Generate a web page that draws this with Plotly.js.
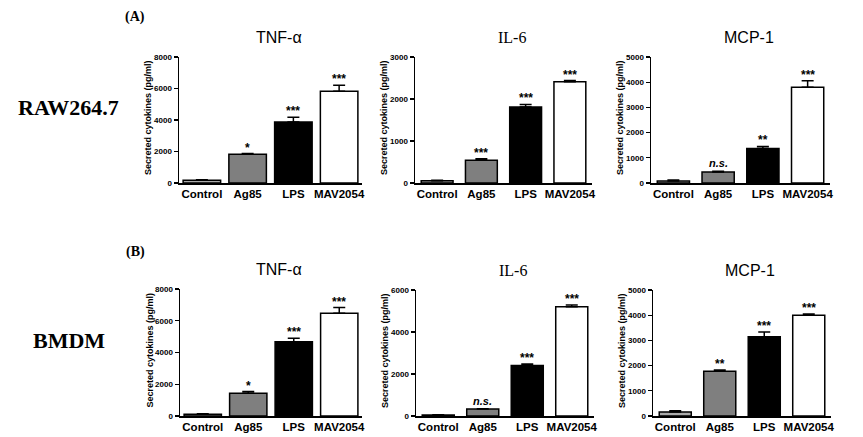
<!DOCTYPE html>
<html><head><meta charset="utf-8">
<script src="https://cdn.plot.ly/plotly-3.0.1.min.js"></script>
<style>html,body{margin:0;padding:0;background:#fff}#c{width:863px;height:437px}</style>
</head><body><div id="c"></div>
<script>
const categories = ["Control","Ag85","LPS","MAV2054"];
const barColors = ["#ababab","#7f7f7f","#000000","#ffffff"];

const rawTNF = [180, 1830, 3870, 5820];
const rawTNFerr = [20, 40, 300, 380];
const rawTNFsig = ["", "*", "***", "***"];

const rawIL6 = [55, 540, 1810, 2410];
const rawIL6err = [10, 40, 60, 30];
const rawIL6sig = ["", "***", "***", "***"];

const rawMCP = [80, 440, 1370, 3800];
const rawMCPerr = [40, 30, 80, 260];
const rawMCPsig = ["", "n.s.", "**", "***"];

const bmTNF = [110, 1430, 4680, 6480];
const bmTNFerr = [30, 110, 220, 350];
const bmTNFsig = ["", "*", "***", "***"];

const bmIL6 = [50, 330, 2400, 5200];
const bmIL6err = [10, 20, 80, 90];
const bmIL6sig = ["", "n.s.", "***", "***"];

const bmMCP = [160, 1780, 3140, 4000];
const bmMCPerr = [50, 50, 190, 50];
const bmMCPsig = ["", "**", "***", "***"];

const titles = ["TNF-α","IL-6","MCP-1","TNF-α","IL-6","MCP-1"];
const yMax = [8000, 3000, 5000, 8000, 6000, 5000];
const yStep = [2000, 1000, 1000, 2000, 2000, 1000];
const yTitle = "Secreted cytokines (pg/ml)";

const W = 863, H = 437;
const panels = [
  {v: rawTNF, e: rawTNFerr, s: rawTNFsig, x0: 179, x1: 362, yt: 57, yb: 183, bw: 0.82},
  {v: rawIL6, e: rawIL6err, s: rawIL6sig, x0: 415, x1: 592, yt: 57, yb: 183, bw: 0.72},
  {v: rawMCP, e: rawMCPerr, s: rawMCPsig, x0: 651, x1: 830, yt: 57, yb: 183, bw: 0.72},
  {v: bmTNF, e: bmTNFerr, s: bmTNFsig, x0: 180, x1: 362, yt: 289, yb: 416, bw: 0.82},
  {v: bmIL6, e: bmIL6err, s: bmIL6sig, x0: 416, x1: 594, yt: 290, yb: 416, bw: 0.72},
  {v: bmMCP, e: bmMCPerr, s: bmMCPsig, x0: 653, x1: 831, yt: 290, yb: 416, bw: 0.72}
];

const traces = [];
const layout = {
  width: W, height: H,
  margin: {l: 0, r: 0, t: 0, b: 0},
  paper_bgcolor: "#fff", plot_bgcolor: "#fff",
  showlegend: false,
  font: {family: "Liberation Sans, Arial, sans-serif", color: "#000"},
  annotations: []
};

panels.forEach((p, i) => {
  const n = i + 1;
  const xa = n === 1 ? "x" : "x" + n;
  const ya = n === 1 ? "y" : "y" + n;
  traces.push({
    type: "bar", x: categories, y: p.v, xaxis: xa, yaxis: ya,
    width: p.bw,
    marker: {color: barColors, line: {color: "#000", width: 1.5}},
    error_y: {type: "data", symmetric: false, array: p.e, arrayminus: p.e.map(() => 0),
              color: "#000", thickness: 1.5, width: 6},
    hoverinfo: "skip"
  });
  const xkey = n === 1 ? "xaxis" : "xaxis" + n;
  const ykey = n === 1 ? "yaxis" : "yaxis" + n;
  layout[xkey] = {
    domain: [p.x0 / W, p.x1 / W], anchor: ya,
    showline: true, linecolor: "#000", linewidth: 1.5,
    ticks: "", showgrid: false, zeroline: false, fixedrange: true,
    tickfont: {size: 11.5, weight: "bold", family: "Liberation Sans, Arial, sans-serif"},
    ticklabelstandoff: 0
  };
  layout[ykey] = {
    domain: [1 - p.yb / H, 1 - p.yt / H], anchor: xa,
    range: [0, yMax[i]], dtick: yStep[i], tick0: 0,
    showline: true, linecolor: "#000", linewidth: 1.5,
    ticks: "outside", ticklen: 4, tickwidth: 1.2, tickcolor: "#000",
    showgrid: false, zeroline: false, fixedrange: true,
    tickfont: {size: 8, weight: "bold", family: "Liberation Sans, Arial, sans-serif"}
  };
  // subplot title
  layout.annotations.push({
    xref: "paper", yref: "paper",
    x: ((p.x0 + p.x1) / 2 + 8) / W, y: 1 - (p.yt - 20) / H,
    text: titles[i], showarrow: false, xanchor: "center", yanchor: "middle",
    font: {size: 16, family: titles[i] === "IL-6" ? "Liberation Serif, serif" : "Liberation Sans, Arial, sans-serif"}
  });
  // y-axis title
  layout.annotations.push({
    xref: "paper", yref: "paper",
    x: (p.x0 - 31) / W, y: 1 - ((p.yt + p.yb) / 2 - 2) / H,
    text: yTitle, textangle: -90, showarrow: false, xanchor: "center", yanchor: "middle",
    font: {size: 9, weight: "bold"}
  });
  // significance marks
  categories.forEach((c, k) => {
    if (!p.s[k]) return;
    const ns = p.s[k] === "n.s.";
    layout.annotations.push({
      xref: xa, yref: ya, x: c, y: p.v[k] + p.e[k],
      text: ns ? "<i>n.s.</i>" : p.s[k], showarrow: false,
      xanchor: "center", yanchor: "bottom", yshift: ns ? 0 : -3,
      font: {size: ns ? 11 : 12, weight: "bold"}
    });
  });
});

// Panel letters and row labels
layout.annotations.push(
  {xref: "paper", yref: "paper", x: 135 / W, y: 1 - 17 / H, text: "(A)", showarrow: false,
   xanchor: "center", yanchor: "middle", font: {size: 14, weight: "bold", family: "Liberation Serif, serif"}},
  {xref: "paper", yref: "paper", x: 135 / W, y: 1 - 252 / H, text: "(B)", showarrow: false,
   xanchor: "center", yanchor: "middle", font: {size: 14, weight: "bold", family: "Liberation Serif, serif"}},
  {xref: "paper", yref: "paper", x: 68 / W, y: 1 - 108 / H, text: "RAW264.7", showarrow: false,
   xanchor: "center", yanchor: "middle", font: {size: 22, weight: "bold", family: "Liberation Serif, serif"}},
  {xref: "paper", yref: "paper", x: 69 / W, y: 1 - 340 / H, text: "BMDM", showarrow: false,
   xanchor: "center", yanchor: "middle", font: {size: 22, weight: "bold", family: "Liberation Serif, serif"}}
);

Plotly.newPlot("c", traces, layout, {displayModeBar: false, staticPlot: true});
</script>
</body></html>
